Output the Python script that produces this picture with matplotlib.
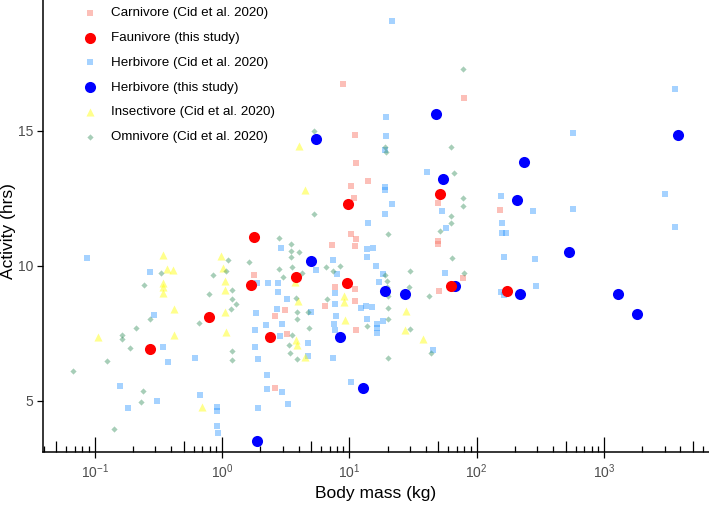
import matplotlib
matplotlib.use("Agg")
import matplotlib.pyplot as plt
from matplotlib.ticker import LogLocator, FixedLocator, NullFormatter, LogFormatterSciNotation

plt.rcParams['font.family'] = ['Liberation Sans', 'DejaVu Sans']
plt.rcParams['mathtext.fontset'] = 'custom'
plt.rcParams['mathtext.rm'] = 'Liberation Sans'
plt.rcParams['mathtext.default'] = 'regular'

# ---------------- data (body mass kg, activity hrs) ----------------
carn_mass = [1.77, 8.88, 11.1, 11.3, 10.3, 10.9, 14.1, 10.3, 11.4, 11.1, 7.31, 11.1, 11.1, 11.3,
             7.72, 6.45, 3.14, 2.62, 3.24, 2.62, 49.5, 50.0, 50.0, 50.9, 79.6, 78.7, 153]
carn_act = [9.66, 16.71, 14.84, 13.81, 12.94, 12.51, 13.15, 11.16, 11.00, 10.74, 10.76, 9.13, 8.71, 7.64,
            9.20, 8.51, 8.35, 8.13, 7.47, 5.47, 12.31, 10.93, 10.81, 9.08, 16.22, 9.56, 12.06]

herb_mass = [0.0865, 0.270, 0.294, 0.346, 0.378, 0.617, 0.159, 0.183, 0.310, 0.671, 0.909, 0.909, 0.909, 0.925,
             21.8, 19.4, 19.5, 19.2, 40.8, 19.2, 19.2, 21.8, 19.2, 14.1, 13.8, 13.8, 15.4, 16.3, 18.3, 17.2,
             18.3, 16.4, 16.4, 16.4, 13.8, 12.4, 13.6, 15.2, 10.4, 8.0, 7.45, 7.68, 7.72, 7.82, 7.54, 7.72,
             7.49, 5.44, 5.0, 4.77, 4.77, 3.26, 2.75, 2.75, 2.70, 2.29, 1.89, 1.86, 1.83, 1.81, 1.93, 2.20,
             2.96, 2.87, 2.26, 2.26, 2.98, 3.28, 1.91, 56.1, 53.8, 57.2, 45.7, 2.89,
             3621, 575, 156, 276, 575, 158, 158, 169, 165, 289, 294, 156, 165, 3020, 3640]
herb_act = [10.30, 9.77, 8.19, 6.99, 6.43, 6.60, 5.54, 4.73, 5.01, 5.21, 4.77, 4.64, 4.08, 3.80,
            19.05, 15.49, 14.80, 14.28, 13.46, 12.90, 12.80, 12.29, 11.92, 11.57, 10.61, 10.34, 10.65, 9.98, 9.70, 9.40,
            7.95, 7.85, 7.69, 7.50, 8.03, 8.43, 8.52, 8.47, 5.71, 9.70, 10.21, 8.98, 8.59, 8.14, 7.85, 7.63,
            6.58, 9.84, 8.30, 7.16, 6.66, 8.76, 9.35, 9.03, 8.39, 9.38, 9.35, 8.24, 7.63, 7.00, 6.54, 7.81,
            7.84, 7.40, 5.96, 5.44, 5.34, 4.88, 4.75, 9.72, 12.04, 11.39, 6.89, 10.65,
            16.53, 14.92, 12.59, 12.03, 12.10, 11.59, 11.22, 11.20, 10.31, 10.24, 9.25, 9.02, 8.91, 12.67, 11.43]

insect_mass = [0.107, 0.346, 0.372, 0.414, 0.346, 0.346, 0.346, 0.417, 0.417, 0.98, 1.02, 1.06, 1.06, 1.06,
               1.07, 0.70, 4.03, 4.52, 3.72, 3.93, 3.81, 3.88, 4.52, 9.08, 9.1, 9.2, 27.9, 27.5, 38.1]
insect_act = [7.36, 10.41, 9.87, 9.84, 9.38, 9.23, 8.98, 8.39, 7.44, 10.35, 9.91, 9.44, 9.10, 8.30,
              7.55, 4.78, 14.44, 12.80, 9.39, 8.71, 7.26, 7.07, 6.64, 8.88, 8.65, 8.00, 8.32, 7.63, 7.29]

omni_mass = [0.0675, 0.142, 0.126, 0.163, 0.163, 0.188, 0.210, 0.244, 0.272, 0.241, 0.232, 0.332, 0.66, 0.79,
             0.845, 1.07, 1.12, 1.64, 1.21, 1.21, 1.18, 1.30, 1.21, 1.21,
             5.28, 5.31, 2.80, 3.50, 3.50, 3.50, 4.0, 3.57, 2.79, 3.01, 4.23, 6.53, 8.41, 7.41, 6.72, 3.79,
             3.91, 3.86, 4.77, 4.85, 3.57, 3.36, 3.42, 3.91, 13.7, 19.2, 19.3, 63.3, 66.4, 77.8, 77.8, 77.8,
             63.3, 63.3, 51.6, 20.0, 19.2, 19.7, 19.7, 20.0, 20.0, 20.0, 20.2, 30.0, 29.6, 30.2, 42.0, 43.6,
             64.1, 79.6]
omni_act = [6.10, 3.96, 6.48, 7.43, 7.30, 6.97, 7.70, 9.28, 8.03, 5.36, 4.95, 9.72, 7.87, 8.96,
            9.66, 9.81, 10.20, 10.15, 9.10, 8.78, 8.39, 8.58, 6.84, 6.52,
            14.99, 11.92, 11.02, 10.80, 10.53, 10.34, 10.50, 9.97, 9.87, 9.60, 9.74, 9.94, 9.98, 9.82, 8.76, 8.82,
            8.30, 8.02, 8.30, 7.69, 7.45, 7.06, 6.79, 6.55, 7.77, 14.40, 14.22, 14.40, 13.44, 17.27, 12.51, 12.22,
            11.84, 11.59, 11.29, 11.18, 9.66, 9.44, 9.20, 8.88, 8.43, 8.03, 6.58, 9.81, 9.23, 7.65, 8.88, 6.76,
            10.28, 9.72]

faun_mass = [0.272, 0.79, 1.68, 1.78, 2.38, 3.83, 9.7, 9.64, 51.6, 63.3, 174]
faun_act = [6.93, 8.11, 9.28, 11.08, 7.38, 9.57, 12.29, 9.36, 12.67, 9.26, 9.08]

herbst_mass = [1.87, 5.44, 5.0, 8.45, 12.8, 19.1, 27.6, 47.7, 54.5, 67.6, 234, 209, 219, 532, 1297, 1833, 3837]
herbst_act = [3.52, 14.69, 10.17, 7.38, 5.47, 9.08, 8.96, 15.63, 13.2, 9.26, 13.83, 12.42, 8.96, 10.5, 8.96, 8.23, 14.84]

labels = ["Carnivore (Cid et al. 2020)", "Faunivore (this study)", "Herbivore (Cid et al. 2020)",
          "Herbivore (this study)", "Insectivore (Cid et al. 2020)", "Omnivore (Cid et al. 2020)"]

# ---------------- figure ----------------
fig = plt.figure(figsize=(7.09, 5.08), dpi=100)
ax = fig.add_axes([42.7 / 709, 1 - 452.3 / 508, 1 - 42.7 / 709, 452.3 / 508])

h_carn = ax.scatter(carn_mass, carn_act, marker='s', s=25, color='#FA8072', alpha=0.5, linewidths=0, label=labels[0])
h_herb = ax.scatter(herb_mass, herb_act, marker='s', s=25, color='#1E90FF', alpha=0.4, linewidths=0, label=labels[2])
h_ins = ax.scatter(insect_mass, insect_act, marker='^', s=34, color='#FFFF00', alpha=0.45, linewidths=0, label=labels[4])
h_omni = ax.scatter(omni_mass, omni_act, marker='D', s=10, color='#2E8B57', alpha=0.42, linewidths=0, label=labels[5])
h_hs = ax.scatter(herbst_mass, herbst_act, marker='o', s=64, color='#0000FF', linewidths=0, label=labels[3], zorder=4)
h_fa = ax.scatter(faun_mass, faun_act, marker='o', s=64, color='#FF0000', linewidths=0, label=labels[1], zorder=5)

ax.set_xscale('log')
ax.set_xlim(10 ** -1.408, 10 ** 3.826)
ax.set_ylim(3.10, 19.83)

for s in ['top', 'right']:
    ax.spines[s].set_visible(False)
for s in ['left', 'bottom']:
    ax.spines[s].set_linewidth(1.1)
    ax.spines[s].set_color('black')

ax.set_yticks([5, 10, 15])
ax.tick_params(axis='y', direction='out', length=4, width=0.9, colors='black', labelcolor='#4D4D4D',
               labelsize=10, pad=3)
ax.xaxis.set_major_locator(FixedLocator([0.1, 1, 10, 100, 1000]))
ax.xaxis.set_major_formatter(LogFormatterSciNotation())
ax.xaxis.set_minor_locator(LogLocator(base=10, subs=[2, 3, 4, 6, 7, 8, 9], numticks=20))
ax.xaxis.set_minor_formatter(NullFormatter())
ax.tick_params(axis='x', which='major', direction='out', length=4, width=0.9, colors='black',
               labelcolor='#4D4D4D', labelsize=10, pad=3)
ax.tick_params(axis='x', which='minor', direction='in', length=4.5, width=0.9, colors='black')

sec = ax.secondary_xaxis('bottom')
sec.xaxis.set_major_locator(FixedLocator([0.01, 0.1, 1, 10, 100, 1000, 10000]))
sec.xaxis.set_minor_locator(LogLocator(base=10, subs=[5], numticks=20))
sec.xaxis.set_major_formatter(NullFormatter())
sec.xaxis.set_minor_formatter(NullFormatter())
sec.tick_params(which='major', direction='in', length=11, width=0.9, colors='black')
sec.tick_params(which='minor', direction='in', length=8, width=0.9, colors='black')
sec.spines['bottom'].set_visible(False)

ax.set_xlabel('Body mass (kg)', fontsize=12.5, color='black', labelpad=4)
ax.set_ylabel('Activity (hrs)', fontsize=12.5, color='black', labelpad=2)
ax.yaxis.set_label_coords(-27 / 666.3, 0.49)

leg = ax.legend(handles=[h_carn, h_fa, h_herb, h_hs, h_ins, h_omni], labels=labels,
                loc='upper left', bbox_to_anchor=(83.3 / 709, 1 - 7 / 508), bbox_transform=fig.transFigure,
                frameon=False, fontsize=9.6, handlelength=1.0, handletextpad=1.1, labelspacing=0.93,
                borderpad=0, borderaxespad=0, scatterpoints=1)

fig.savefig('out.png', dpi=100)
